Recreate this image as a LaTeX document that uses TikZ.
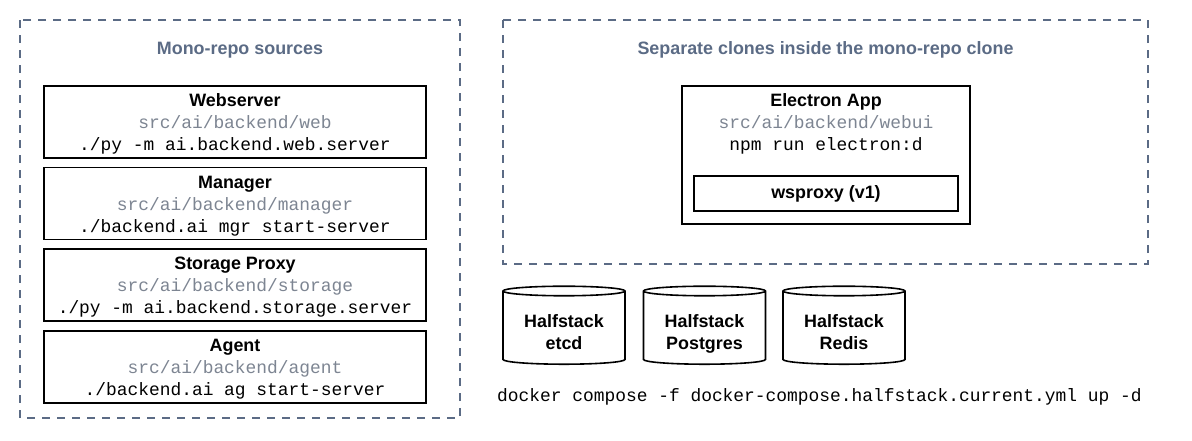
\documentclass[tikz,border=0pt]{standalone}
\usepackage{fontspec}
\setmainfont{Liberation Sans}
\setmonofont{Liberation Mono}
\usetikzlibrary{shapes.geometric}
\definecolor{slate}{HTML}{5B6B85}
\definecolor{pathgray}{HTML}{7D8592}
\newcommand{\svclines}[3]{\textbf{#1}\\{\color{pathgray}\ttfamily #2}\\{\ttfamily #3}}

\begin{document}
\begin{tikzpicture}[x=1pt, y=-1pt, font=\fontsize{17.9}{22}\selectfont,
  group/.style = {draw=slate, line width=1.6pt, dash pattern=on 8pt off 7pt},
  grouptitle/.style = {text=slate, font=\fontsize{17.9}{22}\selectfont\bfseries},
  lines/.style = {align=center, inner sep=0pt, text height=61pt, text depth=4pt},
  box/.style = {draw, line width=1.6pt, lines, minimum width=382pt, minimum height=72pt},
  store/.style = {draw, line width=1.6pt, shape=cylinder, shape border rotate=90, aspect=0.12, align=center, inner sep=0pt, text height=47pt, text depth=4pt, minimum width=122pt, minimum height=78pt, font=\fontsize{17.9}{22}\selectfont\bfseries}]
\useasboundingbox (0,0) rectangle (1192,440);

% groups
\draw[group] (20,20) rectangle (460,418);
\draw[group] (503,20) rectangle (1148,264);
\node[grouptitle] (monotitle) at (240,50) {Mono-repo sources};
\node[grouptitle] (clonetitle) at (825.5,50) {Separate clones inside the mono-repo clone};

% mono-repo services
\node[box] (webserver) at (235,122) {\svclines{Webserver}{src/ai/backend/web}{./py -m ai.backend.web.server}};
\node[box] (manager) at (235,203.5) {\svclines{Manager}{src/ai/backend/manager}{./backend.ai mgr start-server}};
\node[box] (storage) at (235,285) {\svclines{Storage Proxy}{src/ai/backend/storage}{./py -m ai.backend.storage.server}};
\node[box] (agent) at (235,367) {\svclines{Agent}{src/ai/backend/agent}{./backend.ai ag start-server}};

% electron app with its wsproxy
\node[draw, line width=1.6pt, minimum width=288pt, minimum height=138pt, inner sep=0pt] (electron) at (826,155) {};
\node[lines] (electronlbl) at (826,122) {\svclines{Electron App}{src/ai/backend/webui}{npm run electron:d}};
\node[draw, line width=1.6pt, minimum width=264pt, minimum height=35pt, inner sep=0pt, font=\fontsize{17.9}{22}\selectfont\bfseries] (wsproxy) at (826,193.5) {wsproxy (v1)};

% halfstack
\node[store] (etcd) at (564,328) {Halfstack\\etcd};
\node[store] (postgres) at (704.5,328) {Halfstack\\Postgres};
\node[store] (redis) at (844,328) {Halfstack\\Redis};
\node[anchor=west, inner sep=0pt, font=\fontsize{17.9}{22}\selectfont\ttfamily] (compose) at (497,397) {docker compose -f docker-compose.halfstack.current.yml up -d};
\end{tikzpicture}
\end{document}
